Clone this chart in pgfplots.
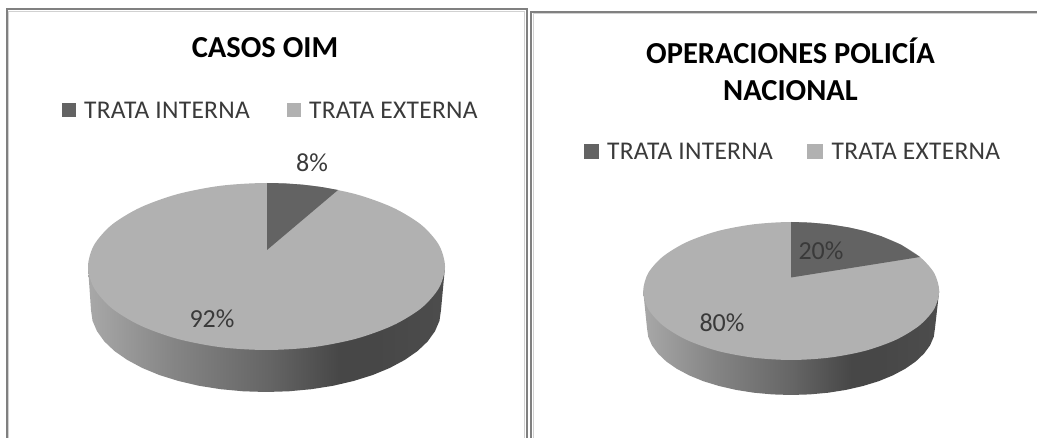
\documentclass[border=0pt]{standalone}
\usepackage{pgfplots}
\pgfplotsset{compat=1.18}
\usepackage{fontspec}
\setmainfont{Carlito}
\definecolor{pdark}{HTML}{636363}
\definecolor{plight}{HTML}{B1B1B1}
\definecolor{ftxt}{HTML}{3A3A3A}
\pgfdeclarehorizontalshading{pieside}{100bp}{
 color(0bp)=(black!34!white);
 color(25bp)=(black!34!white);
 color(37bp)=(black!48!white);
 color(50bp)=(black!60!white);
 color(60bp)=(black!72!white);
 color(66bp)=(black!72!white);
 color(75bp)=(black!70!white);
 color(100bp)=(black!70!white)}
\newcommand{\leg}[3]{\node[anchor=west,inner sep=0pt,text=ftxt,font=\fontsize{25.5}{30}\selectfont] at (axis cs:#1,#2) {\addfontfeature{LetterSpace=1}#3};}
\newcommand{\lab}[3]{\node[inner sep=0pt,text=ftxt,font=\fontsize{26}{30}\selectfont] at (axis cs:#1,#2) {#3};}
\newcommand{\ttl}[3]{\node[inner sep=0pt,text=black,font=\fontsize{30.5}{34}\selectfont\bfseries] at (axis cs:#1,#2) {#3};}
\begin{document}
\begin{tikzpicture}
\path[use as bounding box] (0,0) rectangle (1037pt,438pt);
\begin{axis}[
  at={(0,0)}, anchor=south west,
  width=1037pt, height=438pt, scale only axis,
  xmin=0, xmax=1037, ymin=0, ymax=438, y dir=reverse,
  hide axis, clip=true]
% frames
\addplot[draw=black!50, line width=2pt] coordinates {(6.5,438) (6.5,9.5) (526.5,9.5) (526.5,438)};
\addplot[draw=black!18, line width=1pt] coordinates {(8.5,438) (8.5,11.5) (524.5,11.5) (524.5,438)};
\addplot[draw=black!50, line width=2pt] coordinates {(531,438) (531,12) (1037,12)};
\addplot[draw=black!18, line width=1pt] coordinates {(533,438) (533,14) (1037,14)};
% left pie: side
\addplot[draw=none, shading=pieside] coordinates {(88,267) (91,310) (92.5,320.7) (97,331.2) (104.3,341.4) (114.4,351) (127.2,359.9) (142.3,368) (159.5,375.1) (178.5,381) (199,385.8) (220.7,389.2) (243.2,391.3) (266,392) (288.8,391.3) (311.3,389.2) (333,385.8) (353.5,381) (372.5,375.1) (389.7,368) (404.8,359.9) (417.6,351) (427.7,341.4) (435,331.2) (439.5,320.7) (441,310) (445,267)} -- cycle;
% left pie: TRATA EXTERNA 92
\addplot[draw=none, fill=plight, smooth cycle] coordinates {(445,266.5) (438.9,288.1) (421.1,308.3) (392.7,325.5) (355.8,338.8) (312.7,347.2) (266.5,350) (220.3,347.2) (177.2,338.8) (140.3,325.5) (111.9,308.3) (94.1,288.1) (88,266.5) (94.1,244.9) (111.9,224.7) (140.3,207.5) (177.2,194.2) (220.3,185.8) (266.5,183) (312.7,185.8) (355.8,194.2) (392.7,207.5) (421.1,224.7) (438.9,244.9)};
% left pie: TRATA INTERNA 8
\addplot[draw=none, fill=pdark] coordinates {(267,250) (267,183) (285,183.4) (303,184.7) (322,187.1) (338,190)} -- cycle;
% right pie: side
\addplot[draw=none, shading=pieside] coordinates {(643.2,291) (647,328) (648.2,336.7) (651.9,345.3) (658,353.6) (666.3,361.5) (676.8,368.8) (689.2,375.4) (703.3,381.2) (719,386) (736,389.9) (753.7,392.7) (772.2,394.4) (791,395) (809.8,394.4) (828.3,392.7) (846,389.9) (863,386) (878.7,381.2) (892.8,375.4) (905.2,368.8) (915.7,361.5) (924,353.6) (930.1,345.3) (933.8,336.7) (935,328) (939.2,291)} -- cycle;
% right pie: TRATA EXTERNA 80
\addplot[draw=none, fill=plight, smooth cycle] coordinates {(939.2,291) (934.2,308.9) (919.4,325.5) (895.9,339.8) (865.2,350.8) (829.5,357.6) (791.2,360) (752.9,357.6) (717.2,350.8) (686.5,339.8) (663,325.5) (648.2,308.9) (643.2,291) (648.2,273.1) (663,256.5) (686.5,242.2) (717.2,231.2) (752.9,224.4) (791.2,222) (829.5,224.4) (865.2,231.2) (895.9,242.2) (919.4,256.5) (934.2,273.1)};
% right pie: TRATA INTERNA 20
\addplot[draw=none, fill=pdark] coordinates {(791,277.5) (791,222) (810,222.6) (829.5,224.4) (849.2,227.5) (865.2,231.2) (881.2,236.2) (901.2,244.8) (920,257)} -- cycle;
% legend swatches
\addplot[draw=none, fill=pdark] coordinates {(62,103) (76,103) (76,117) (62,117)} -- cycle;
\addplot[draw=none, fill=plight] coordinates {(287,103) (301,103) (301,117) (287,117)} -- cycle;
\addplot[draw=none, fill=pdark] coordinates {(584,144) (599,144) (599,159) (584,159)} -- cycle;
\addplot[draw=none, fill=plight] coordinates {(807,144) (823,144) (823,159) (807,159)} -- cycle;
% text
\ttl{265}{48}{CASOS OIM}
\ttl{790.5}{51}{OPERACIONES POLICÍA}
\ttl{790.5}{91}{NACIONAL}
\leg{84}{110}{TRATA INTERNA}
\leg{309}{110}{TRATA EXTERNA}
\leg{607}{151}{TRATA INTERNA}
\leg{831.5}{151}{TRATA EXTERNA}
\lab{312}{163}{8\%}
\lab{212}{319}{92\%}
\lab{821}{251}{20\%}
\lab{722}{323}{80\%}
\end{axis}
\end{tikzpicture}
\end{document}
